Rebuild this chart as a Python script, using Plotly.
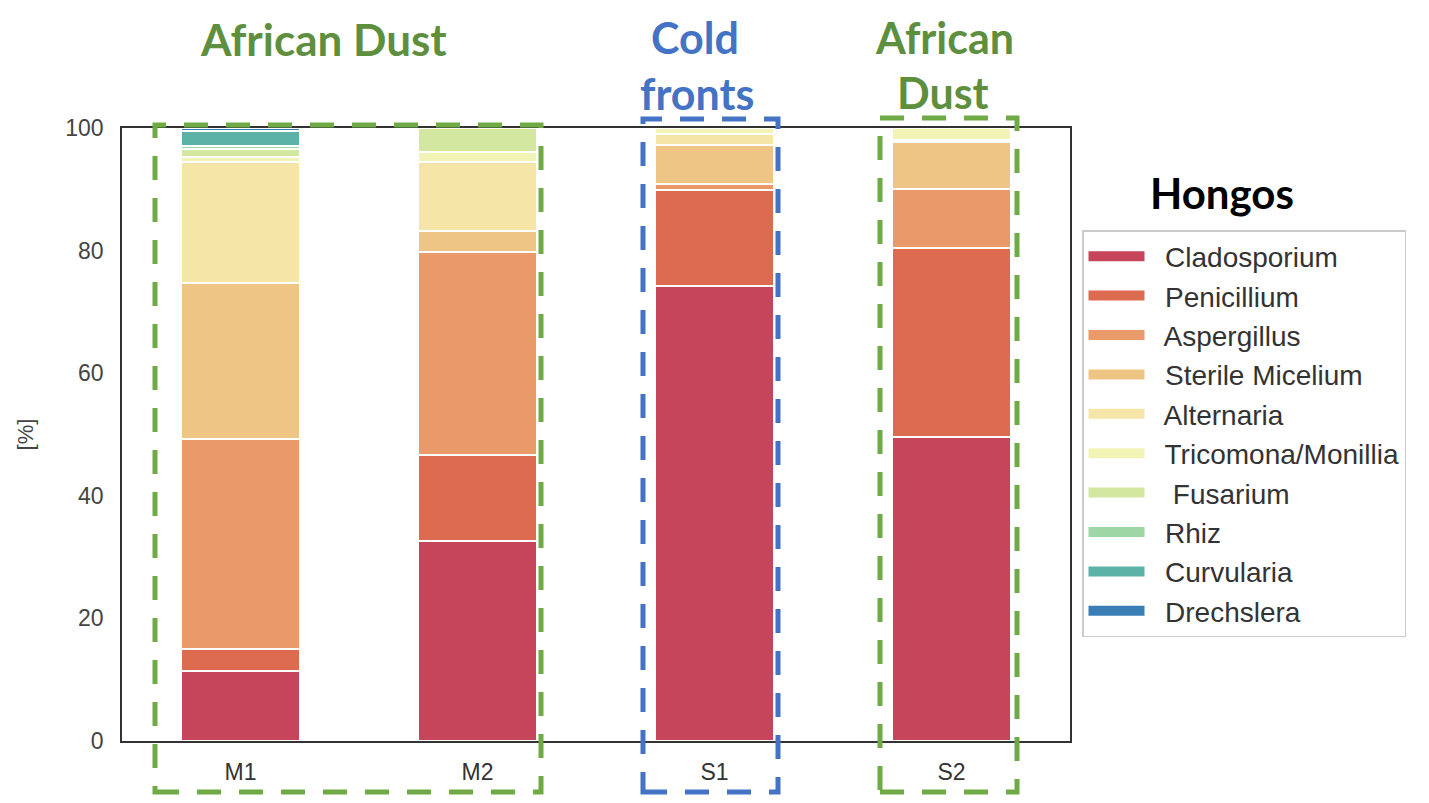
import plotly.graph_objects as go

samples = ["M1", "M2", "S1", "S2"]
genera = ["Cladosporium", "Penicillium", "Aspergillus", "Sterile Micelium", "Alternaria",
          "Tricomona/Monillia", " Fusarium", "Rhiz", "Curvularia", "Drechslera"]
colors = ["#c6455a", "#dd6b50", "#e99a68", "#efc585", "#f5e6a8",
          "#f2f4b6", "#d3e7a0", "#9fd6a6", "#5cb2a6", "#3b7eb6"]

cladosporium = [11.5, 32.6, 74.2, 49.6]
penicillium = [3.5, 14.1, 15.7, 30.8]
aspergillus = [34.2, 33.1, 1.0, 9.6]
sterile_micelium = [25.5, 3.4, 6.3, 7.7]
alternaria = [19.8, 11.3, 1.8, 0.3]
tricomona = [0.8, 1.6, 1.0, 2.0]
fusarium = [1.2, 3.9, 0.0, 0.0]
rhiz = [0.6, 0.0, 0.0, 0.0]
curvularia = [2.4, 0.0, 0.0, 0.0]
drechslera = [0.5, 0.0, 0.0, 0.0]

series = [cladosporium, penicillium, aspergillus, sterile_micelium, alternaria,
          tricomona, fusarium, rhiz, curvularia, drechslera]

y_ticks = [0, 20, 40, 60, 80, 100]

fig = go.Figure()
for name, vals, col in zip(genera, series, colors):
    fig.add_trace(go.Bar(
        x=samples, y=vals, name=name, legendgroup=name, showlegend=False,
        marker=dict(color=col, line=dict(color="white", width=2)),
        width=0.5,
    ))
# legend entries (wide colour swatches)
for name, col in zip(genera, colors):
    fig.add_trace(go.Scatter(
        x=[None], y=[None], mode="lines", name="  " + name, legendgroup=name,
        line=dict(color=col, width=16), hoverinfo="skip",
    ))

OFF = 8  # page body margin
W, H = 1429 - 2 * OFF, 803 - 2 * OFF
L, R, T, B = 122 - OFF, 1070 - OFF, 128 - OFF, 741 - OFF


def px(x):
    return (x - OFF - L) / (R - L)


def py(y):
    return (B - (y - OFF)) / (B - T)


green = "#6faa45"
blue = "#4472c4"
shapes = []
for (x0, x1, y0, y1, c) in [(155, 541, 125, 792, green), (643, 778, 119, 792, blue),
                            (880, 1017, 118, 792, green)]:
    shapes.append(dict(type="rect", xref="paper", yref="paper",
                       x0=px(x0), x1=px(x1), y0=py(y1), y1=py(y0),
                       line=dict(color=c, width=5, dash="24px,18px"),
                       fillcolor="rgba(0,0,0,0)", layer="above"))

text_green = "#5e8f3e"


def ann(text, x, y, color, size, h=None):
    d = dict(text=text, x=px(x), y=py(y), xref="paper", yref="paper",
             xanchor="center", yanchor="middle", showarrow=False,
             font=dict(family="Lato", size=size, color=color))
    if h:
        d["height"] = h
    return d


annotations = [
    ann("<b>African Dust</b>", 323, 39, text_green, 44, 46),
    ann("<b>Cold</b>", 695, 37, blue, 43, 46),
    ann("<b>fronts</b>", 697, 93, blue, 43, 46),
    ann("<b>African</b>", 944, 37, text_green, 43, 46),
    ann("<b>Dust</b>", 943, 92, text_green, 43, 46),
    ann("<b>Hongos</b>", 1222, 193, "black", 42),
]

fig.update_layout(
    width=W, height=H,
    margin=dict(l=L, r=W - R, t=T, b=H - B, autoexpand=False),
    barmode="stack",
    plot_bgcolor="white", paper_bgcolor="white",
    font=dict(family="Liberation Sans", color="#333333"),
    shapes=shapes,
    annotations=annotations,
    showlegend=True,
    legend=dict(x=px(1082), y=py(230), xref="paper", yref="paper",
                xanchor="left", yanchor="top",
                traceorder="grouped", tracegroupgap=0,
                bordercolor="#cccccc", borderwidth=1.5, bgcolor="white",
                font=dict(family="Liberation Sans", size=28, color="#333333"),
                itemwidth=56),
    xaxis=dict(range=[-0.5, 3.5], showgrid=False, showline=True, mirror=True,
               linecolor="#333333", linewidth=1.5, ticks="",
               tickfont=dict(size=23, color="#333333"), ticklabelstandoff=10),
    yaxis=dict(range=[0, 100], tickvals=y_ticks, showgrid=False, showline=True,
               mirror=True, linecolor="#333333", linewidth=1.5, ticks="", zeroline=False,
               tickfont=dict(size=23, color="#444444"), ticklabelstandoff=12,
               title=dict(text="[%]", font=dict(size=22, color="#444444"), standoff=26)),
)

fig.write_html("out.html")
